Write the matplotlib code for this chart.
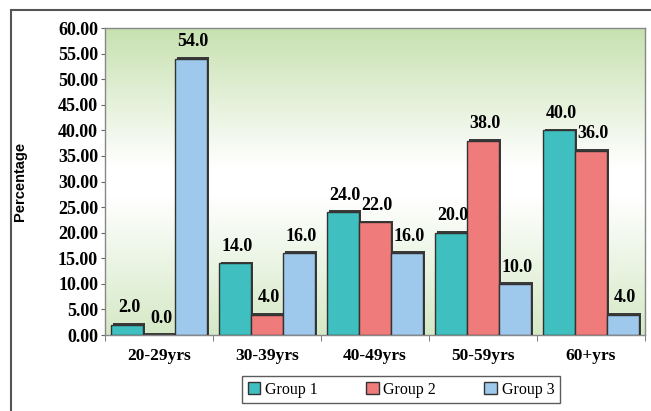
import numpy as np
import matplotlib
matplotlib.use("Agg")
import matplotlib.pyplot as plt
from matplotlib.patches import Rectangle
from matplotlib.colors import LinearSegmentedColormap

categories = ["20-29yrs", "30-39yrs", "40-49yrs", "50-59yrs", "60+yrs"]
group1 = [2.0, 14.0, 24.0, 20.0, 40.0]
group2 = [0.0, 4.0, 22.0, 38.0, 36.0]
group3 = [54.0, 16.0, 16.0, 10.0, 4.0]
series_names = ["Group 1", "Group 2", "Group 3"]
colors = ["#3fbfbf", "#f07b7b", "#9fc9ec"]
yticks = [0, 5, 10, 15, 20, 25, 30, 35, 40, 45, 50, 55, 60]

serif = "Liberation Serif"

fig = plt.figure(figsize=(6.51, 4.11), dpi=100)
ax = fig.add_axes([105/651, 1 - 335/411, 540/651, 307/411])

# outer border
fig.patches.append(Rectangle((11/651, -0.2), 1.2, 1 - 10/411 + 0.2, transform=fig.transFigure,
                             fill=False, edgecolor="#555555", lw=1.5, clip_on=False))

# gradient background
cmap = LinearSegmentedColormap.from_list("bg", [(0.0, "#d5e9c6"), (0.45, "#ffffff"), (0.55, "#ffffff"), (1.0, "#c7e1b0")])
grad = np.linspace(0, 1, 256).reshape(-1, 1)
ax.imshow(grad, aspect="auto", cmap=cmap, extent=[-0.5, 4.5, 0, 60], origin="lower", zorder=0)

x = np.arange(len(categories))
w = 0.296
data = [group1, group2, group3]
for i, (vals, c, name) in enumerate(zip(data, colors, series_names)):
    pos = x + (i - 1) * w
    # shadow for 3D effect
    ax.bar(pos + 0.015, np.array(vals) + 0.35, width=w, color="#3a3a3a", zorder=2)
    ax.bar(pos, vals, width=w, color=c, edgecolor="#333333", linewidth=1.0, zorder=3, label=name)
    for p, v in zip(pos, vals):
        ax.annotate(f"{v:.1f}", (p + 0.02, v), xytext=(0, 6), textcoords="offset points",
                    ha="center", va="bottom", fontsize=13, fontweight="bold", family=serif, zorder=5)

ax.set_xlim(-0.5, 4.5)
ax.set_ylim(0, 60)
ax.set_yticks(yticks)
ax.set_yticklabels([f"{t:.2f}" for t in yticks], fontsize=13, fontweight="bold", family=serif)
ax.set_xticks(x)
ax.set_xticklabels(categories, fontsize=12.5, fontweight="bold", family=serif)
ax.set_xticks(np.arange(-0.5, 5, 1), minor=True)
ax.tick_params(axis="x", which="major", length=0, pad=9)
ax.tick_params(axis="x", which="minor", length=4, color="#666666", direction="out")
ax.tick_params(axis="y", length=3, color="#666666", pad=2)
for s in ax.spines.values():
    s.set_color("#888888")
    s.set_linewidth(1.0)

ax.set_ylabel("Percentage", fontsize=10.5, fontweight="bold", family="Liberation Sans")
ax.yaxis.set_label_coords(-0.145, 0.50)

leg = fig.legend(*ax.get_legend_handles_labels(), loc="center", bbox_to_anchor=(401/651, 1 - 389.5/411),
                 ncol=3, frameon=True, fancybox=False, edgecolor="#333333",
                 prop={"family": serif, "size": 11.5}, handlelength=0.8, handleheight=0.8,
                 columnspacing=3.0, handletextpad=0.3, borderpad=0.35, borderaxespad=0)
leg.get_frame().set_linewidth(1.0)
for h in leg.legend_handles:
    h.set_edgecolor("#333333")

fig.savefig("out.png", dpi=100)
